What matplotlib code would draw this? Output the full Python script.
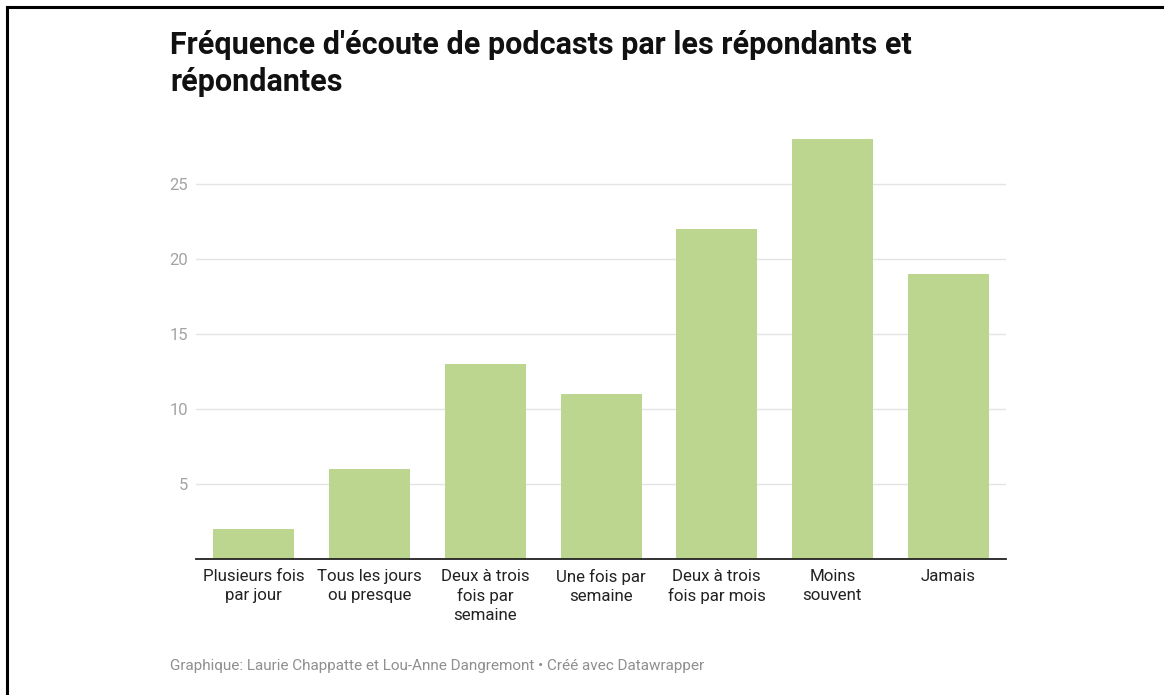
import matplotlib.pyplot as plt
import numpy as np

categories = [
    "Plusieurs fois\npar jour",
    "Tous les jours\nou presque",
    "Deux à trois\nfois par\nsemaine",
    "Une fois par\nsemaine",
    "Deux à trois\nfois par mois",
    "Moins\nsouvent",
    "Jamais",
]
counts = [2, 6, 13, 11, 22, 28, 19]
yticks = [5, 10, 15, 20, 25]

W, H = 1164, 695
plt.rcParams["font.family"] = ["Roboto", "DejaVu Sans"]

fig = plt.figure(figsize=(W / 100, H / 100), dpi=100)
ax = fig.add_axes([196 / W, 1 - 559 / H, (1006 - 196) / W, (559 - 139) / H])

x = np.arange(len(categories))
ax.bar(x, counts, width=0.70, color="#bdd68f", zorder=2)
ax.set_xlim(-0.5, len(categories) - 0.5)
ax.set_ylim(0, 28)

ax.set_yticks(yticks)
ax.set_yticklabels([str(v) for v in yticks])
ax.grid(axis="y", color="#e4e4e4", linewidth=1, zorder=0)
ax.tick_params(axis="y", length=0, pad=5.5, labelsize=12, labelcolor="#a3a3a3")

ax.set_xticks(x)
ax.set_xticklabels(categories, linespacing=1.33)
ax.tick_params(axis="x", length=0, pad=7, labelsize=12.2, labelcolor="#222222")

for side in ("top", "right", "left"):
    ax.spines[side].set_visible(False)
ax.spines["bottom"].set_color("#222222")
ax.spines["bottom"].set_linewidth(1.3)
ax.spines["bottom"].set_zorder(3)

fig.text(170 / W, 1 - 91 / H, "Fréquence d'écoute de podcasts par les répondants et\nrépondantes",
         fontsize=22, fontweight="bold", color="#111111", ha="left", va="baseline",
         linespacing=1.3)
fig.text(170 / W, 1 - 670 / H,
         "Graphique: Laurie Chappatte et Lou-Anne Dangremont • Créé avec Datawrapper",
         fontsize=11, color="#8f8f8f", ha="left", va="baseline")

# frame lines on the left and top edges
fig.add_artist(plt.Line2D([6.5 / W, 6.5 / W], [0, 1 - 6.5 / H], color="black", linewidth=2.2))
fig.add_artist(plt.Line2D([6.5 / W, 1], [1 - 6.5 / H, 1 - 6.5 / H], color="black", linewidth=2.2))

fig.savefig("out.png", dpi=100)
